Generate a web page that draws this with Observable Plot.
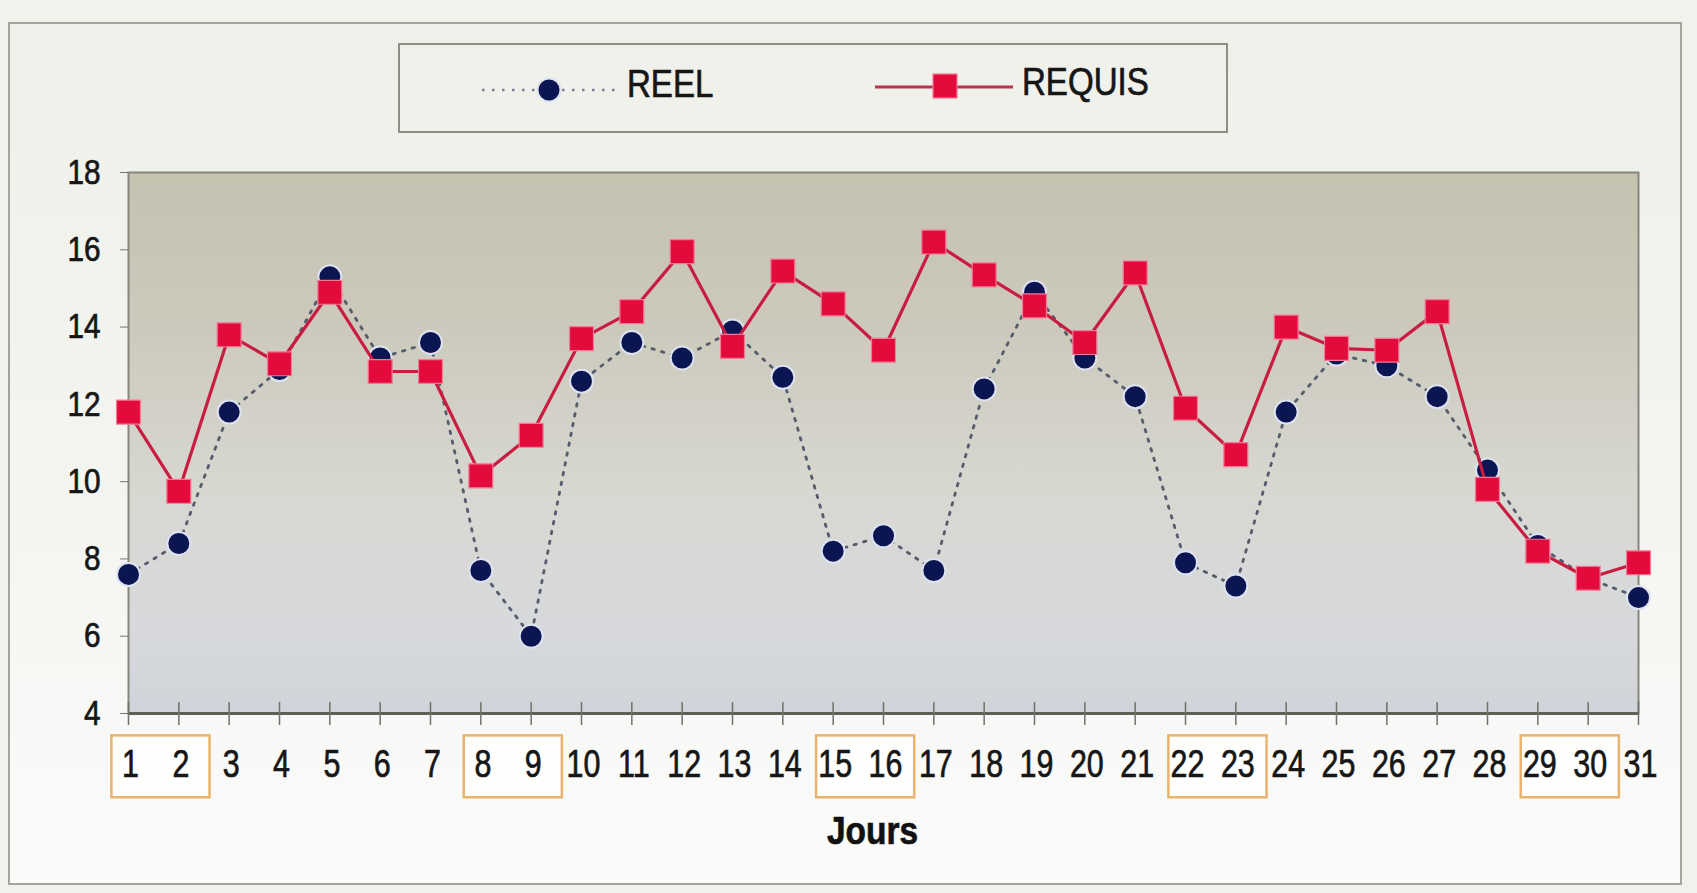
<!DOCTYPE html>
<html><head><meta charset="utf-8">
<script src="https://cdn.jsdelivr.net/npm/d3@7"></script>
<script src="https://cdn.jsdelivr.net/npm/@observablehq/plot@0.6"></script>
<style>
html,body{margin:0;padding:0;background:#f1f2ec;}
#wrap{position:relative;width:1697px;height:893px;overflow:hidden;font-family:"Liberation Sans",Arial,sans-serif;}
#frame{position:absolute;left:8px;top:22px;width:1670px;height:859px;border:2px solid #a4a49c;background:linear-gradient(#eef0e9,#f4f5f1 55%,#fbfbfa);}
#chart{position:absolute;left:0;top:0;}
#legend{position:absolute;left:0;top:0;}
</style></head><body>
<div id="wrap"><div id="frame"></div><div id="chart"></div><svg id="legend" width="1697" height="150"></svg></div>
<script>
// ---- data ----
const days = [1,2,3,4,5,6,7,8,9,10,11,12,13,14,15,16,17,18,19,20,21,22,23,24,25,26,27,28,29,30,31];
const reel = [7.6,8.4,11.8,12.9,15.3,13.2,13.6,7.7,6.0,12.6,13.6,13.2,13.9,12.7,8.2,8.6,7.7,12.4,14.9,13.2,12.2,7.9,7.3,11.8,13.3,13.0,12.2,10.3,8.35,7.5,7.0];
const requis = [11.8,9.75,13.8,13.05,14.9,12.85,12.85,10.15,11.2,13.7,14.4,15.95,13.5,15.45,14.6,13.4,16.2,15.35,14.55,13.6,15.4,11.9,10.7,14.0,13.45,13.4,14.4,9.8,8.2,7.5,7.9];
const weekends = [1,8,15,22,29];
const yTicks = [4,6,8,10,12,14,16,18];
const seriesNames = ["REEL","REQUIS"];
const xLabel = "Jours";

const rows = days.map((d,i)=>({day:d, reel:reel[i], requis:requis[i]}));
const FONT = "'Liberation Sans', Arial, sans-serif";
const INK = "#161616";

const plot = Plot.plot({
  width:1697, height:893,
  marginTop:172, marginLeft:128, marginRight:59, marginBottom:180,
  style:{background:"transparent", fontFamily:FONT, color:INK, overflow:"visible"},
  x:{domain:[1,31]},
  y:{domain:[4,18]},
  marks:[
    Plot.frame({fill:"url(#bgGrad)", stroke:"#86867c", strokeWidth:2}),
    Plot.rect(weekends, {x1:d=>d-0.33, x2:d=>d+1.62, y1:3.42, y2:1.82, fill:"#fefefd", stroke:"#e9b26f", strokeWidth:2.5}),
    Plot.ruleY([4], {stroke:"#5d6153", strokeWidth:3}),
    Plot.axisY({ticks:yTicks, tickSize:8, tickPadding:20, fontSize:35, stroke:"#777", label:null}),
    Plot.axisX({ticks:days, tickSize:23, dy:-11, tickFormat:()=>"", label:null, stroke:"#6f7268", strokeWidth:1.5}),
    Plot.axisX({ticks:days, tickSize:0, tickPadding:37, dx:2, fontSize:38, label:null, tickFormat:d=>String(d)}),
    Plot.text([xLabel], {text:d=>d, frameAnchor:"bottom", lineAnchor:"middle", dy:118, dx:-11, fontSize:38, fontWeight:"bold", fill:"#111"}),
    Plot.line(rows, {x:"day", y:"reel", stroke:"#555c6c", strokeWidth:2.8, strokeDasharray:"2.5,7.5"}),
    Plot.dot(rows, {x:"day", y:"reel", r:11.5, fill:"#0b1552", stroke:"#dde3f1", strokeWidth:2}),
    Plot.line(rows, {x:"day", y:"requis", stroke:"#c81c40", strokeWidth:3.2}),
    Plot.dot(rows, {x:"day", y:"requis", symbol:"square", r:13.5, fill:"#e30a3c", stroke:"#f27a95", strokeWidth:1.2})
  ]
});

// gradient for plot background
const defs = d3.select(plot).insert("defs", ":first-child");
const grad = defs.append("linearGradient").attr("id","bgGrad").attr("x1",0).attr("y1",0).attr("x2",0).attr("y2",1);
[[0,"#c6c2b0"],[0.3,"#cdcabd"],[0.6,"#d8d8d2"],[0.85,"#d7d9dc"],[1,"#d0d3d9"]]
  .forEach(([o,c])=>grad.append("stop").attr("offset",o).attr("stop-color",c));

// condensed, slightly heavy look for text
function squeeze(nodes, s){
  for (const t of nodes) {
    const x = parseFloat(t.getAttribute("x")) || 0;
    if (x) t.removeAttribute("x");
    const tr = t.getAttribute("transform") || "";
    t.setAttribute("transform", `${tr} translate(${x},0) scale(${s},1)`);
    t.setAttribute("stroke", INK);
    t.setAttribute("stroke-width", 0.7);
    t.setAttribute("paint-order", "fill");
  }
}
squeeze(plot.querySelectorAll('[aria-label="y-axis tick label"] text'), 0.85);
squeeze(plot.querySelectorAll('[aria-label="x-axis tick label"] text'), 0.8);
squeeze(plot.querySelectorAll('[aria-label="text"] text'), 0.88);
document.getElementById("chart").appendChild(plot);

// legend
const leg = d3.select("#legend");
leg.append("rect").attr("x",399).attr("y",44).attr("width",828).attr("height",88)
  .attr("fill","#f0f1eb").attr("stroke","#8e8e86").attr("stroke-width",2);
leg.append("line").attr("x1",482).attr("x2",617).attr("y1",90).attr("y2",90)
  .attr("stroke","#7a8090").attr("stroke-width",2.5).attr("stroke-dasharray","2.5,7.5");
leg.append("circle").attr("cx",549).attr("cy",90).attr("r",11.5).attr("fill","#0b1552").attr("stroke","#dde3f1").attr("stroke-width",2);
leg.append("text").attr("x",627).attr("y",97).attr("font-size",38).attr("font-family",FONT).attr("fill",INK).text(seriesNames[0]);
leg.append("line").attr("x1",875).attr("x2",1013).attr("y1",87).attr("y2",87)
  .attr("stroke","#b8344e").attr("stroke-width",3);
leg.append("rect").attr("x",933).attr("y",74).attr("width",24).attr("height",24).attr("fill","#e30a3c").attr("stroke","#f27a95").attr("stroke-width",1.2);
leg.append("text").attr("x",1022).attr("y",95).attr("font-size",38).attr("font-family",FONT).attr("fill",INK).text(seriesNames[1]);
squeeze(document.querySelectorAll("#legend text"), 0.87);
</script>
</body></html>
